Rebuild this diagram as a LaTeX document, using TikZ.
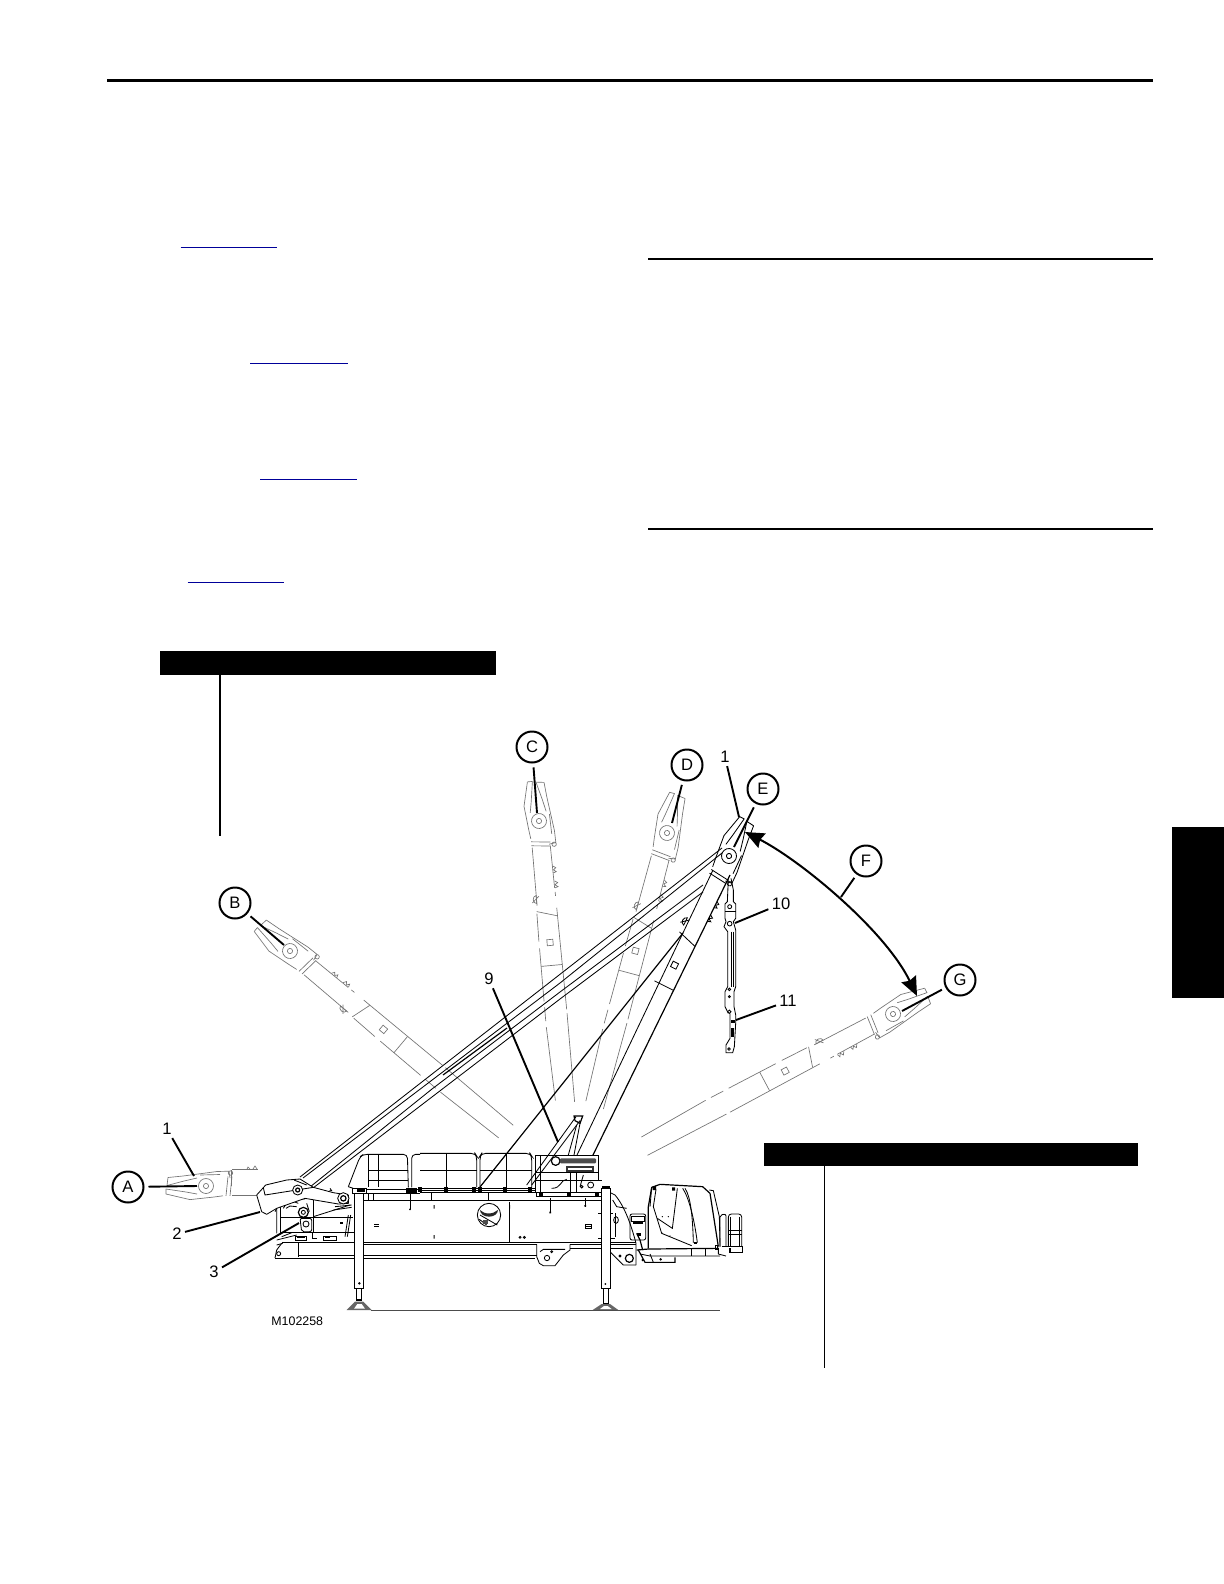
\documentclass[tikz,border=0pt]{standalone}
\usepackage{fontspec}
\setmainfont{Liberation Sans}
\usetikzlibrary{arrows.meta}
\tikzset{
  rulethick/.style={line width=1.25pt},
  linkline/.style={line width=0.5pt,color=blue!60!black},
  leader/.style={line width=0.95pt,black},
  callout/.style={circle,draw=black,line width=1pt,minimum size=15.5pt,inner sep=0pt,font=\fontsize{8.3}{9}\selectfont,fill=white},
  numlabel/.style={inner sep=1.5pt,font=\fontsize{8.3}{9}\selectfont},
  ghostline/.style={line width=0.33pt,color=black!55},
  darkline/.style={line width=0.42pt,color=black},
  heavyline/.style={line width=0.6pt,color=black},
  blackbar/.style={fill=black,draw=none},
  zc/.style={x=0.16667pt,y=-0.16667pt}
}
% head of the boom, local frame: u runs from the pin towards the boom foot
\newcommand{\boomhead}[1]{%
  \draw[#1,line join=round] (-38,-8.5) -- (-23,-10) -- (11,-14.5) -- (23,-14.8) -- (24,-8);
  \draw[#1,line join=round] (-39,-0.5) -- (-38,-8.5);
  \draw[#1,line join=round] (-39,-0.5) -- (-22,-5) -- (-9,-8);
  \draw[#1,line join=round] (-40,8) -- (-16,13.6) -- (8,11) -- (17,9.8);
  \draw[#1,line join=round] (-40,8) -- (-40,3) -- (-20,6) -- (-9,8);
  \draw[#1] (-6,-11) -- (14,-11.5);
  \draw[#1] (0,0) circle (7.5);
  \draw[#1] (0,0) circle (2.6);
  \draw[#1] (20,9.8) -- (22,-9.5);
  \draw[#1] (24,9.8) -- (26,-9.5);
  \draw[#1] (24.5,-13) circle (2.2);
}
\newcommand{\boomparts}[1]{%
  \draw[#1] (90,10.5) -- (96,-9.5);
  \draw[#1] (145,11) -- (145,-10);
  \draw[#1] (119,-3) rectangle (125,3);
  \draw[#1] (46,-9.5) -- (48,-12.5) -- (50,-10) -- (52,-12.5) -- (53,-9.5);
  \draw[#1] (61,-10) -- (63,-13) -- (65,-10) -- (67,-13) -- (68,-10);
  \draw[#1] (74,9.7) arc (180:0:4 and 3.2) -- cycle;
  \draw[#1] (75,7) -- (81,14);
}
\newcommand{\ghostboom}[3]{%
  \begin{scope}[shift={(#1,#2)},rotate=#3]
    \boomhead{ghostline}
    \boomparts{ghostline}
    \draw[ghostline] (26,-9) -- (68,-9.5) (72,-9.6) -- (76,-9.7) (88,-9.8) -- (190,-10.5) (194,-10.5) -- (283,-10);
    \draw[ghostline] (26,9.2) -- (84,9.6) (92,10.5) -- (120,11) (127,11) -- (180,11.3) (186,11.3) -- (200,11.4) (206,11.4) -- (280,9);
  \end{scope}
}
\begin{document}
\begin{tikzpicture}[x=0.5pt,y=-0.5pt]
\useasboundingbox (0,0) rectangle (1224,1584);
\fill[white] (0,0) rectangle (1224,1584);

% page rules and links
\draw[rulethick] (107,80.5) -- (1153,80.5);
\draw[rulethick] (648,259) -- (1153,259);
\draw[line width=1pt] (648,529) -- (1153,529);
\draw[linkline] (180.5,247) -- (277,247);
\draw[linkline] (250,363) -- (348,363);
\draw[linkline] (260,479) -- (357,479);
\draw[linkline] (187.5,582) -- (284,582);

% black bars
\fill[blackbar] (160,651) rectangle (496,675);
\draw[line width=0.7pt] (220,675) -- (220,836);
\fill[blackbar] (764,1143) rectangle (1138,1166);
\draw[line width=0.5pt] (824,1166) -- (824,1368);
\fill[blackbar] (1172,827) rectangle (1224,998);

% ghost positions of the boom
\ghostboom{290}{951}{-40}
\ghostboom{539}{821}{-84.8}
\ghostboom{667}{833}{-105}
\ghostboom{893}{1014}{207.9}
\begin{scope}[shift={(206,1186)}]
  \boomhead{ghostline}
  \draw[ghostline] (26,-17) -- (52,-17);
  \draw[ghostline] (25,-16) -- (25,0) (26,9) -- (52,9);
  \draw[ghostline] (41,-17) -- (42,-19) -- (44,-17) (47,-17) -- (49,-20) -- (51,-17);
\end{scope}

% raised boom E
\begin{scope}[shift={(729,856)},rotate=243.5]
  \boomhead{darkline}
  \boomparts{darkline}
\end{scope}
\draw[darkline] (713,870) -- (577,1155);
\draw[heavyline] (730,875) -- (593,1155);

% pendants
\draw[darkline] (722,848) -- (300,1177);
\draw[darkline] (722,853) -- (560,983) -- (303,1178);
\draw[darkline] (703,885) -- (560,992) -- (432,1089) -- (310,1187);
\draw[darkline] (703,892) -- (560,999) -- (313,1188);
\draw[heavyline] (507,1028) -- (443,1075);
\draw[heavyline] (683,933) -- (480,1187);

% hanging link
\begin{scope}[shift={(500,730)},zc]
  \draw[darkline] (693,445) -- (700,480) -- (700,515) -- (707,522) -- (707,565) -- (700,575) -- (707,600) -- (707,770) -- (702,785) -- (702,830) -- (707,855) -- (707,880) -- (703,950) -- (698,968) -- (678,968) -- (678,945) -- (690,925) -- (690,850);
  \draw[darkline] (685,445) -- (682,515) -- (675,522) -- (675,565) -- (678,575) -- (672,590) -- (683,605) -- (683,770) -- (675,785) -- (675,830) -- (685,850);
  \draw[darkline] (695,605) -- (695,770);
  \draw[darkline] (700,605) -- (700,770);
  \draw[darkline] (675,545) -- (707,545);
  \draw[darkline] (689,530) circle (6);
  \draw[darkline] (689,581) circle (7);
  \draw[darkline] (688,778) circle (4);
  \draw[darkline] (688,800) circle (3);
  \draw[darkline] (688,845) circle (5);
  \draw[darkline] (687,957) circle (4);
  \fill[black] (692,870) rectangle (705,878);
  \fill[black] (694,895) rectangle (703,920);
\end{scope}

% crane, left part
\begin{scope}[shift={(100,1100)},zc]
  % frame under the heel
  \draw[darkline,rounded corners=1.5pt] (530,400) -- (530,297) -- (615,297);
  \draw[darkline] (540,352) -- (760,352);
  \draw[darkline] (540,303) -- (540,398) -- (762,398);
  \draw[darkline] (640,298) -- (640,398);
  \draw[darkline] (640,350) -- (750,315);
  \draw[darkline] (550,325) .. controls (560,305) and (580,300) .. (595,310);
  \draw[darkline] (558,325) -- (570,318) -- (590,320);
  \draw[darkline] (620,310) -- (628,335);
  \fill (720,365) rectangle (730,373);
  \draw[darkline] (745,345) -- (735,410);
  \draw[darkline] (752,345) -- (742,410);
  % deck items
  \draw[darkline] (585,408) rectangle (620,420);
  \fill (590,408) rectangle (615,414);
  \draw[darkline] (670,408) rectangle (710,420);
  \fill (675,410) rectangle (690,415);
  \draw[heavyline] (638,400) -- (638,415) -- (650,415);
  \draw[darkline] (545,410) -- (575,398) (530,420) -- (590,405);
  % deck and front end
  \draw[heavyline] (545,428) -- (770,428);
  \draw[heavyline] (790,428) -- (960,428);
  \draw[darkline] (790,433) -- (960,433);
  \draw[darkline] (525,474) -- (960,474);
  \draw[darkline] (595,466) -- (960,466);
  \draw[darkline] (595,430) -- (595,472);
  \draw[darkline] (525,474) -- (530,450) -- (545,430);
  \draw[darkline] (536,461) circle (6);
  \draw[darkline] (530,435) -- (548,430);
  % heel
  \draw[darkline,fill=white,line join=round] (470,285) -- (497,255) -- (560,240) -- (600,237) -- (640,262) -- (700,278) -- (745,285)
        -- (745,310) -- (715,312) -- (615,295) -- (530,325) -- (500,343) -- (485,335) -- cycle;
  \draw[darkline] (490,263) -- (495,285) -- (640,262);
  \draw[darkline] (530,325) -- (525,335);
  \draw[darkline] (690,265) -- (695,272) -- (688,272);
  \draw[darkline,fill=white] (593,270) circle (15);
  \draw[heavyline] (593,270) circle (6);
  \draw[darkline] (582,240) -- (620,255);
  \draw[darkline,fill=white] (730,295) circle (17);
  \draw[heavyline] (730,295) circle (8);
  \draw[darkline] (705,320) -- (755,315) (700,330) -- (755,322);
  \draw[heavyline,fill=white] (610,337) circle (15);
  \draw[darkline] (610,337) circle (6);
  \draw[darkline,fill=white,rounded corners=1pt] (600,355) -- (635,355) -- (635,395) -- (605,395) -- cycle;
  \draw[darkline] (618,372) circle (9);
  % front outrigger
  \draw[darkline,fill=white] (763,275) rectangle (790,565);
  \draw[darkline,fill=white] (768,565) rectangle (785,600);
  \fill (778,550) circle (4);
  \fill[black!60] (765,605) -- (790,605) -- (815,630) -- (740,630) -- cycle;
  \fill[white] (772,612) -- (785,612) -- (795,626) -- (762,626) -- cycle;
  \draw[heavyline] (768,600) -- (785,600);
  \draw[darkline,fill=white] (757,265) rectangle (800,280);
  \fill (770,268) rectangle (795,277);
  % rails
  \draw[darkline,rounded corners=2pt] (745,260) -- (780,170) -- (790,163) -- (922,163) -- (925,262);
  \draw[darkline] (745,260) -- (760,265);
  \draw[darkline] (805,165) -- (805,262);
  \draw[darkline] (835,165) -- (835,262);
  \draw[darkline] (805,212) -- (925,212);
  \draw[darkline] (805,242) -- (925,242);
  \draw[darkline,rounded corners=2pt] (935,262) -- (935,163) -- (960,163);
  \draw[darkline] (800,268) -- (960,268);
  \draw[darkline] (800,279) -- (960,279);
  \draw[darkline] (790,300) -- (960,300);
  \draw[darkline] (790,300) -- (790,428);
  \draw[darkline] (805,280) -- (805,300) (820,280) -- (820,300);
  \fill (918,263) rectangle (950,278);
  \draw[darkline] (930,280) -- (930,328);
  \fill (930,328) circle (3);
  \draw[darkline] (822,373) -- (838,373) (822,380) -- (838,380);
\end{scope}

% crane, right part
\begin{scope}[shift={(420,1100)},zc]
  % rails and platform
  \draw[darkline,rounded corners=2pt] (0,160) -- (165,160) -- (170,168) -- (170,262);
  \draw[darkline,rounded corners=2pt] (180,262) -- (180,168) -- (185,160) -- (330,160) -- (335,168) -- (335,262);
  \draw[darkline] (78,162) -- (78,262) (258,162) -- (258,262);
  \draw[darkline] (0,212) -- (170,212) (180,212) -- (335,212);
  \draw[darkline] (0,264) -- (345,264) (0,272) -- (345,272);
  \foreach \px in {0,78,163,180,256,330} { \fill (\px-6,262) rectangle (\px+6,276); }
  \draw[darkline] (0,278) -- (350,278);
  \draw[darkline] (0,300) -- (545,300);
  \draw[darkline] (35,278) -- (35,300) (205,278) -- (205,300);
  \fill (41,315) rectangle (44,326) (41,405) rectangle (44,416) (267,315) rectangle (270,326);
  \draw[darkline] (268,305) -- (268,425);
  \draw[darkline] (300,412) circle (3) (313,412) circle (3);
  \draw[darkline] (497,374) rectangle (513,384) (497,379) -- (513,379);
  \draw[darkline] (390,295) -- (390,340) (495,295) -- (495,320);
  \fill (388,335) rectangle (393,340) (493,315) rectangle (498,320);
  % emblem
  \draw[darkline] (207,345) circle (35);
  \fill[black!85] (180,330) arc (180:0:27 and 20) -- (225,335) arc (20:160:20 and 8) -- cycle;
  \draw[darkline] (180,345) -- (232,375) (178,358) -- (200,375);
  \fill[black!70] (190,360) rectangle (205,372);
  % gantry
  \draw[darkline] (345,165) -- (535,165) -- (535,240);
  \draw[darkline] (345,165) -- (345,275) (360,165) -- (360,275);
  \draw[darkline] (345,218) -- (535,218) (345,240) -- (545,240);
  \draw[heavyline] (350,278) -- (545,278) -- (545,290) -- (350,290) -- cycle;
  \foreach \px in {362,448,530} { \fill (\px-6,275) rectangle (\px+6,288); }
  \draw[darkline] (320,255) -- (468,50) (335,255) -- (480,62);
  \draw[darkline] (445,165) -- (470,75) (462,165) -- (480,70);
  \draw[heavyline] (462,48) -- (488,48) -- (480,70) -- (465,62) -- cycle;
  \draw[darkline] (395,265) .. controls (425,265) and (420,240) .. (440,238);
  \draw[darkline] (450,218) -- (450,278) (470,218) -- (470,278);
  \draw[darkline] (480,260) -- (490,225);
  \draw[darkline] (512,255) circle (9) (485,260) circle (4);
  % decal
  \draw[heavyline,fill=white] (407,183) circle (13);
  \fill[black!70,rounded corners=0.5pt] (420,175) rectangle (528,190);
  \fill[black!80] (438,198) rectangle (522,217);
  \fill[white] (445,204) rectangle (515,210);
  % main box, rear
  \draw[heavyline] (0,428) -- (648,428);
  \draw[darkline] (0,433) -- (350,433) (450,433) -- (648,433);
  \draw[darkline] (0,466) -- (350,466) (0,474) -- (345,474);
  \draw[darkline] (545,265) -- (585,285) .. controls (615,320) and (635,380) .. (648,430) -- (648,495);
  \draw[darkline] (578,300) -- (590,320) -- (620,325);
  \draw[darkline] (535,340) -- (580,340) (585,340) -- (585,412) (535,415) -- (585,415);
  \draw[darkline] (588,360) ellipse (7 and 10);
  % lug under the box
  \draw[darkline] (350,433) -- (350,470) -- (358,490) -- (370,497) -- (405,497) -- (430,465) -- (450,450) -- (450,433);
  \draw[darkline] (360,455) -- (370,448) -- (435,448);
  \draw[darkline] (381,474) circle (8) (395,455) circle (3);
  \draw[darkline] (450,445) -- (545,445);
  % rear end
  \draw[darkline] (570,445) -- (640,445);
  \draw[darkline] (570,455) -- (610,495) -- (648,495);
  \draw[heavyline] (628,475) circle (12);
  \draw[darkline] (600,468) circle (3);
  % rear outrigger
  \draw[darkline,fill=white] (545,265) rectangle (570,565);
  \draw[darkline,fill=white] (550,565) rectangle (565,610);
  \fill (556,552) circle (3);
  \fill[black!60] (545,612) -- (570,612) -- (595,630) -- (518,630) -- cycle;
  \fill[white] (552,618) -- (563,618) -- (575,627) -- (540,627) -- cycle;
  \fill (546,258) rectangle (570,267);
  % ground
  \draw[line width=0.6pt,black!70] (-148,631) -- (900,631);
  % cab side box
  \draw[darkline,rounded corners=1pt] (630,342) rectangle (677,420);
  \draw[darkline] (635,348) rectangle (672,365);
  \fill (640,365) rectangle (668,372);
  \draw[heavyline] (650,400) -- (660,420) -- (668,450);
  \fill (650,398) rectangle (662,408);
  % cab
  \draw[heavyline,line join=round] (685,445) -- (685,320) -- (695,262) -- (720,253) -- (848,260) -- (870,280) -- (895,440);
  \draw[darkline] (868,270) -- (880,272) -- (898,350) -- (900,440);
  \draw[darkline] (695,262) -- (690,320);
  \draw[darkline] (708,268) -- (700,320) -- (725,400) -- (815,437);
  \draw[darkline] (772,265) -- (757,385) -- (712,355);
  \draw[darkline] (788,265) .. controls (805,290) and (822,350) .. (832,428);
  \draw[darkline] (795,265) .. controls (812,290) and (818,350) .. (820,428);
  \fill (727,350) circle (2) (745,350) circle (2) (725,398) circle (2) (750,408) circle (2);
  \fill (698,258) rectangle (708,270) (756,262) rectangle (765,272);
  \fill (822,425) rectangle (832,433);
  % cab base
  \draw[heavyline] (650,450) -- (685,447) -- (895,445) -- (895,462);
  \draw[darkline] (660,462) -- (690,468) -- (900,468);
  \draw[darkline] (815,447) -- (815,468) (855,447) -- (855,468) (885,437) rectangle (893,447);
  \draw[heavyline] (655,450) -- (675,487) -- (765,487) -- (765,472);
  \draw[darkline] (690,462) -- (700,487);
  \fill (668,480) circle (4) (722,478) circle (4);
  \draw[darkline] (895,462) -- (918,468);
  % rear ladder
  \draw[darkline,rounded corners=1.5pt] (925,440) -- (925,342) -- (965,342) -- (965,440);
  \draw[darkline] (932,350) -- (932,440) (958,350) -- (958,440);
  \draw[darkline] (925,402) -- (965,402) (925,392) -- (965,392);
  \draw[darkline,rounded corners=1pt] (900,440) -- (900,345) -- (918,342) -- (918,440);
  \draw[heavyline] (905,440) -- (968,440) -- (968,458) -- (930,458) -- (930,445);
\end{scope}

% callouts
\node[callout] (nA) at (128,1187) {A};
\node[callout] (nB) at (235,903) {B};
\node[callout] (nC) at (532,747) {C};
\node[callout] (nD) at (687,765) {D};
\node[callout] (nE) at (763,789) {E};
\node[callout] (nF) at (866,861) {F};
\node[callout] (nG) at (960,980) {G};
\coordinate (eA) at (197,1186);
\coordinate (eB) at (284,945);
\coordinate (eC) at (537,813);
\coordinate (eD) at (672,823);
\coordinate (eE) at (734,847);
\coordinate (eF) at (841,897);
\coordinate (eG) at (902,1011);
\foreach \k in {A,B,C,D,E,F,G} { \draw[leader,shorten <=2pt] (n\k) -- (e\k); }

\node[numlabel] (l1a) at (167,1129) {1};
\node[numlabel] (l1b) at (725,757) {1};
\node[numlabel] (l2) at (177,1234) {2};
\node[numlabel] (l3) at (214,1272) {3};
\node[numlabel] (l9) at (489,979) {9};
\node[numlabel] (l10) at (781,904) {10};
\node[numlabel] (l11) at (788,1001) {11};
\coordinate (e1a) at (194,1176);
\coordinate (e1b) at (739,817);
\coordinate (e2) at (260,1212);
\coordinate (e3) at (299,1223);
\coordinate (e9) at (558,1142);
\coordinate (e10) at (735,923);
\coordinate (e11) at (736,1020);
\draw[leader] (l1a) -- (e1a);
\draw[leader] (l1b) -- (e1b);
\draw[leader] (l2) -- (e2);
\draw[leader] (l3) -- (e3);
\draw[leader] (l9) -- (e9);
\draw[leader] (l10) -- (e10);
\draw[leader] (l11) -- (e11);

% swing arc
\coordinate (arcS) at (745,832);
\coordinate (arcG) at (917,996);
\draw[line width=1pt,{Stealth[length=9.5pt,width=8pt,inset=1pt]}-{Stealth[length=9.5pt,width=8pt,inset=1pt]}] (arcS) .. controls (800,860) and (885,930) .. (arcG);

\node[anchor=west,inner sep=0pt,font=\fontsize{6.2}{7}\selectfont] (code) at (271,1321) {M102258};
\end{tikzpicture}
\end{document}
